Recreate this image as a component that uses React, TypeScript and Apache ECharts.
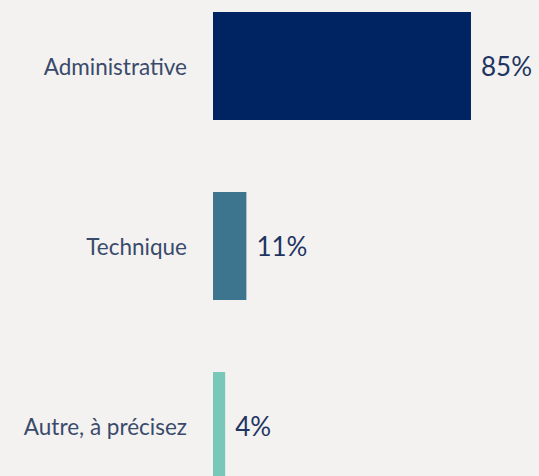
import React, { useEffect, useRef } from "react";
import * as echarts from "echarts";

const categories = ["Administrative", "Technique", "Autre, à précisez"];
const values = [85, 11, 4];
const colors = ["#002361", "#3c758d", "#78c7b9"];

export default function App() {
  const ref = useRef<HTMLDivElement>(null);
  useEffect(() => {
    if (!ref.current) return;
    const chart = echarts.init(ref.current, null, { renderer: "svg" });
    chart.setOption({
      animation: false,
      backgroundColor: "#f3f2f1",
      grid: { left: 213, right: 22.5, top: 0, bottom: 0, containLabel: false },
      xAxis: { type: "value", min: 0, max: 100, show: false },
      yAxis: {
        type: "category",
        data: categories,
        inverse: true,
        axisLine: { show: false },
        axisTick: { show: false },
        axisLabel: {
          margin: 26,
          fontFamily: "Lato",
          fontSize: 22.5,
          color: "#3a4a6b",
        },
      },
      series: [
        {
          type: "bar",
          data: values.map((v, i) => ({ value: v, itemStyle: { color: colors[i] } })),
          barWidth: "60%",
          label: {
            show: true,
            position: "right",
            distance: 10,
            formatter: "{c}%",
            fontFamily: "Lato",
            fontSize: 26,
            color: "#1f3461",
          },
        },
      ],
    });
    return () => chart.dispose();
  }, []);
  return (
    <div
      ref={ref}
      style={{ position: "fixed", left: 0, top: -24, width: 539, height: 540 }}
    />
  );
}
